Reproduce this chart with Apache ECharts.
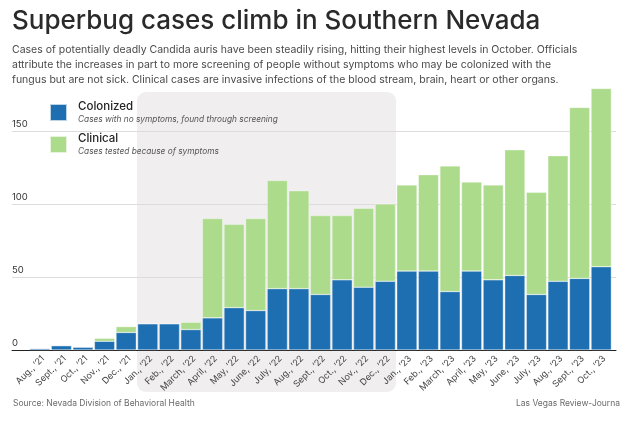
<!DOCTYPE html>
<html>
<head>
<meta charset="utf-8">
<script src="https://cdn.jsdelivr.net/npm/echarts@6/dist/echarts.min.js"></script>
<style>
html,body{margin:0;padding:0;background:#fff;}
#c{width:634px;height:426px;}
</style>
</head>
<body>
<div id="c"></div>
<script>
const months = ["Aug., ’21","Sept., ’21","Oct., ’21","Nov., ’21","Dec., ’21","Jan., ’22","Feb., ’22","March, ’22","April, ’22","May, ’22","June, ’22","July, ’22","Aug., ’22","Sept., ’22","Oct., ’22","Nov., ’22","Dec., ’22","Jan., ’23","Feb., ’23","March, ’23","April, ’23","May, ’23","June, ’23","July, ’23","Aug., ’23","Sept., ’23","Oct., ’23"];
const colonized = [1,3,2,6,12,18,18,14,22,29,27,42,42,38,48,43,47,54,54,40,54,48,51,38,47,49,57];
const clinical  = [0,0,0,2,4,0,0,5,68,57,63,74,67,54,44,54,53,59,66,86,61,65,86,70,86,117,122];
const seriesNames = ["Colonized","Clinical"];
const seriesDescriptions = ["Cases with no symptoms, found through screening","Cases tested because of symptoms"];
const yTicks = [0,50,100,150];
const highlightRange = ["Jan., ’22","Dec., ’22"];

const titleText = "Superbug cases climb in Southern Nevada";
const subtitleText = "Cases of potentially deadly Candida auris have been steadily rising, hitting their highest levels in October. Officials\nattribute the increases in part to more screening of people without symptoms who may be colonized with the\nfungus but are not sick. Clinical cases are invasive infections of the blood stream, brain, heart or other organs.";
const sourceText = "Source: Nevada Division of Behavioral Health";
const creditText = "Las Vegas Review-Journa";

const FONT = "Inter, 'Noto Sans', sans-serif";
const chart = echarts.init(document.getElementById('c'), null, {renderer:'canvas'});
const descMap = {};
seriesNames.forEach((n,i)=>descMap[n]=seriesDescriptions[i]);

const yMax = 180;
chart.setOption({
  animation:false,
  backgroundColor:'#fff',
  textStyle:{fontFamily:FONT},
  title:[
    {text:titleText,left:12,top:8,padding:0,textStyle:{fontFamily:FONT,fontSize:26,fontWeight:500,color:'#2a2a2a'}},
    {text:subtitleText,left:12,top:43,padding:0,textStyle:{fontFamily:FONT,fontSize:10.5,fontWeight:400,color:'#4a4a4a',lineHeight:14.6}},
    {text:sourceText,left:13,top:399,padding:0,textStyle:{fontFamily:FONT,fontSize:8.5,fontWeight:400,color:'#6a6a6a'}},
    {text:creditText,right:14,top:399,padding:0,textStyle:{fontFamily:FONT,fontSize:8.5,fontWeight:400,color:'#6a6a6a'}}
  ],
  legend:{
    orient:'vertical',left:49,top:100.5,padding:0,itemWidth:17,itemHeight:17,itemGap:9,icon:'rect',
    data:seriesNames,
    formatter:name=>`{n|${name}}\n{d|${descMap[name]}}`,
    textStyle:{rich:{
      n:{fontFamily:FONT,fontSize:11.5,fontWeight:500,color:'#222',lineHeight:14,padding:[0,0,0,6]},
      d:{fontFamily:FONT,fontSize:8.3,fontStyle:'italic',color:'#555',lineHeight:12,padding:[0,0,0,6]}
    }}
  },
  grid:[
    {left:12,right:18,top:87,bottom:76},
    {left:29,right:22,top:87,bottom:76}
  ],
  xAxis:[
    {gridIndex:0,type:'value',min:0,max:1,axisLine:{show:true,onZero:false,lineStyle:{color:'#222',width:1}},axisTick:{show:false},axisLabel:{show:false},splitLine:{show:false}},
    {gridIndex:1,type:'category',data:months,axisLine:{show:false},axisTick:{show:false},
     axisLabel:{interval:0,rotate:45,verticalAlign:'top',fontFamily:FONT,fontSize:9,color:'#444',margin:4}}
  ],
  yAxis:[
    {gridIndex:0,type:'value',min:0,max:yMax,interval:50,
     axisLine:{show:false},axisTick:{show:false},
     axisLabel:{inside:true,margin:0,verticalAlign:'bottom',padding:[0,0,2,0],fontFamily:FONT,fontSize:9.5,color:'#333',
       showMaxLabel:false,formatter:v=>yTicks.includes(v)?String(v):''},
     splitLine:{show:true,showMaxLine:false,showMinLine:false,lineStyle:{color:'#dcdcdc',width:1}}},
    {gridIndex:1,type:'value',min:0,max:yMax,show:false,splitLine:{show:false}}
  ],
  series:[
    {name:seriesNames[0],type:'bar',stack:'a',xAxisIndex:1,yAxisIndex:1,data:colonized,barCategoryGap:'6%',
     itemStyle:{color:'#1e6fb1',borderColor:'rgba(255,255,255,0.7)',borderWidth:0.5}},
    {name:seriesNames[1],type:'bar',stack:'a',xAxisIndex:1,yAxisIndex:1,data:clinical,barCategoryGap:'6%',
     itemStyle:{color:'#abdb8b',borderColor:'rgba(255,255,255,0.7)',borderWidth:0.5}}
  ]
});

const i0 = months.indexOf(highlightRange[0]);
const i1 = months.indexOf(highlightRange[1]);
const p0 = chart.convertToPixel({xAxisIndex:1}, months[i0]);
const p0b = chart.convertToPixel({xAxisIndex:1}, months[i0+1]);
const p1 = chart.convertToPixel({xAxisIndex:1}, months[i1]);
const bw = p0b - p0;
const rx0 = p0 - bw/2, rx1 = p1 + bw/2;
chart.setOption({
  graphic:[{type:'rect',z:-10,silent:true,shape:{x:rx0,y:92,width:rx1-rx0,height:300,r:9},style:{fill:'#f0eeef'}}]
});
</script>
</body>
</html>
